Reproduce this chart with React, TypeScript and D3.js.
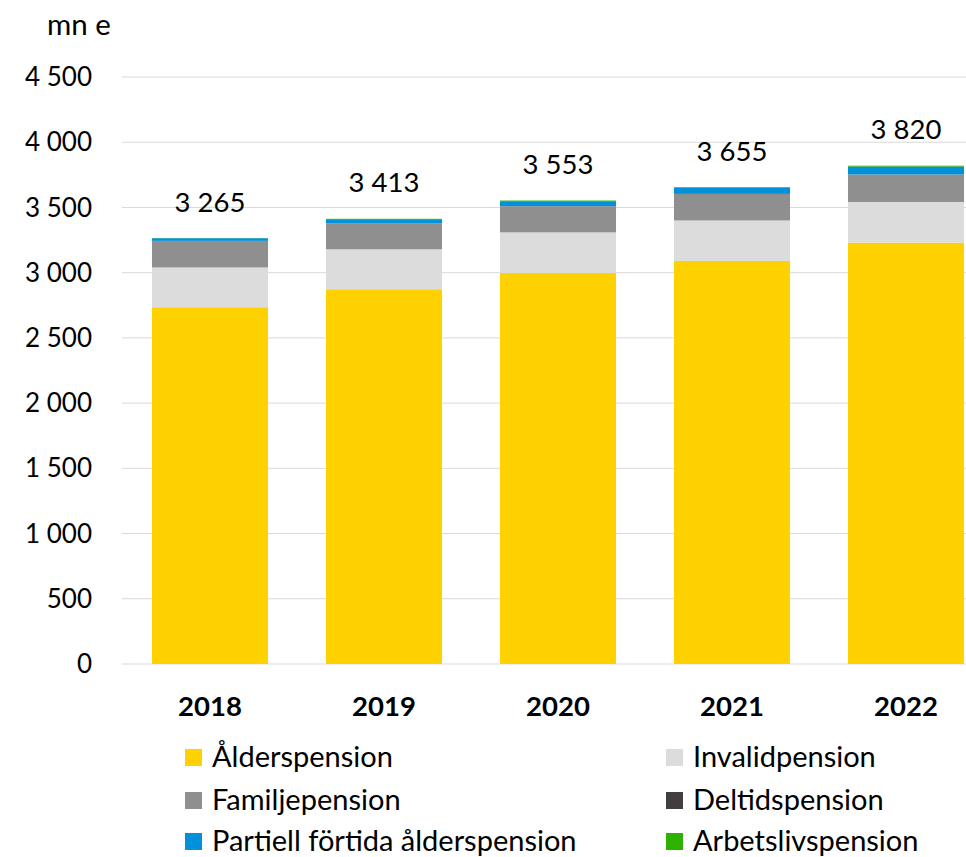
import React from "react";
import * as d3 from "d3";

const years = ["2018", "2019", "2020", "2021", "2022"];
const seriesNames = [
  "Ålderspension",
  "Invalidpension",
  "Familjepension",
  "Deltidspension",
  "Partiell förtida ålderspension",
  "Arbetslivspension",
];
const alder = [2735, 2873, 2998, 3090, 3230];
const invalid = [305, 306, 311, 310, 312];
const familj = [203, 198, 200, 203, 210];
const deltid = [1, 1, 1, 1, 1];
const partiell = [20, 32, 38, 45, 60];
const arbetsliv = [1, 3, 5, 6, 7];
const totals = [3265, 3413, 3553, 3655, 3820];
const yTicks = [0, 500, 1000, 1500, 2000, 2500, 3000, 3500, 4000, 4500];
const colors = ["#FFD100", "#DCDCDC", "#8F8F8F", "#433E3E", "#0091DA", "#2DB200"];

const fmt = (v: number) => {
  const s = String(v);
  return s.length > 3 ? s.slice(0, s.length - 3) + " " + s.slice(-3) : s;
};

export default function App() {
  const W = 966;
  const H = 857;
  const font = "Lato, 'Open Sans', sans-serif";
  const y = d3.scaleLinear().domain([0, 4500]).range([664, 77]);
  const x = d3.scaleBand().domain(years).range([123, 993]).paddingInner(0.333).paddingOuter(0.1665);
  const data = years.map((yr, i) => ({
    year: yr,
    s0: alder[i],
    s1: invalid[i],
    s2: familj[i],
    s3: deltid[i],
    s4: partiell[i],
    s5: arbetsliv[i],
  }));
  const stack = d3.stack<any>().keys(["s0", "s1", "s2", "s3", "s4", "s5"]);
  const layers = stack(data);
  const legend = [
    { i: 0, x: 185, y: 757 },
    { i: 1, x: 666, y: 757 },
    { i: 2, x: 185, y: 800 },
    { i: 3, x: 666, y: 800 },
    { i: 4, x: 185, y: 841 },
    { i: 5, x: 666, y: 841 },
  ];
  return (
    <svg width={W} height={H} style={{ position: "absolute", left: 0, top: 0, background: "#fff" }} fontFamily={font}>
      <rect width={W} height={H} fill="#fff" />
      {yTicks.map((t) => (
        <g key={t}>
          <line x1={122} x2={W} y1={y(t)} y2={y(t)} stroke="#D9D9D9" strokeWidth={1} />
          <text x={92} y={y(t)} dy="0.35em" textAnchor="end" fontSize={26} fill="#000">
            {fmt(t)}
          </text>
        </g>
      ))}
      <text x={47} y={25} dy="0.35em" fontSize={29.5} fill="#000">mn e</text>
      {layers.map((layer, li) => (
        <g key={li} fill={colors[li]}>
          {layer.map((d, j) => (
            <rect
              key={j}
              x={x(years[j])!}
              width={x.bandwidth()}
              y={y(d[1])}
              height={y(d[0]) - y(d[1])}
            />
          ))}
        </g>
      ))}
      {years.map((yr, i) => (
        <text key={yr} x={x(yr)! + x.bandwidth() / 2} y={y(totals[i]) - 36} dy="0.35em" textAnchor="middle" fontSize={27.5} fill="#000">
          {fmt(totals[i])}
        </text>
      ))}
      {years.map((yr) => (
        <text key={yr} x={x(yr)! + x.bandwidth() / 2} y={706} dy="0.35em" textAnchor="middle" fontSize={27.5} fontWeight="bold" fill="#000">
          {yr}
        </text>
      ))}
      {legend.map((l) => (
        <g key={l.i}>
          <rect x={l.x} y={l.y - 8} width={17} height={17} fill={colors[l.i]} />
          <text x={l.x + 27} y={l.y} dy="0.35em" fontSize={29} fill="#000">
            {seriesNames[l.i]}
          </text>
        </g>
      ))}
    </svg>
  );
}
